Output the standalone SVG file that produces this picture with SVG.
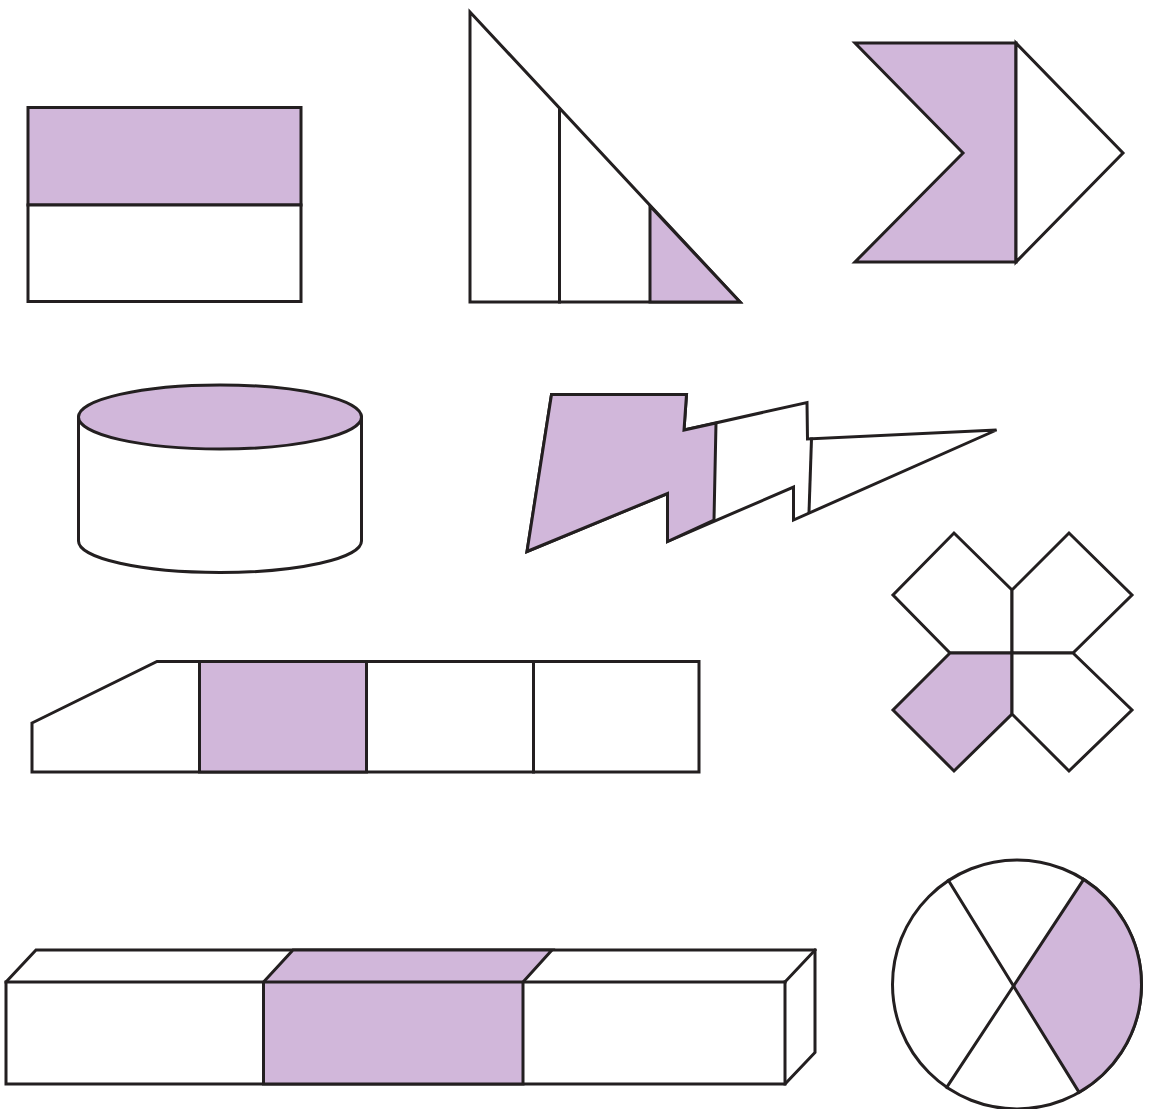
<svg xmlns="http://www.w3.org/2000/svg" width="1160" height="1109" viewBox="0 0 1160 1109">
<style>
.s{stroke:#231f20;stroke-width:3;stroke-linejoin:miter;stroke-linecap:square}
.p{fill:#d1b7da}
.w{fill:#ffffff}
.n{fill:none}
</style>
<rect width="1160" height="1109" fill="#ffffff"/>
<g id="rectangle">
<rect class="s p" x="28" y="107.5" width="273" height="97.5"/>
<rect class="s w" x="28" y="205" width="273" height="96.5"/>
</g>
<g id="triangle">
<polygon class="s w" points="470,12 470,302 740,302"/>
<polygon class="s p" points="650,206 650,302 740,302"/>
<line class="s" x1="559.5" y1="109" x2="559.5" y2="302"/>
</g>
<g id="chevron">
<polygon class="s p" points="855,43 1016,43 1016,262 855,262 963,153"/>
<polygon class="s w" points="1016,43 1123,153 1016,262"/>
</g>
<g id="cylinder">
<path class="s w" d="M78.5,417 L78.5,541 A141.5,31.5 0 0 0 361.5,541 L361.5,417"/>
<ellipse class="s p" cx="220" cy="417" rx="141.5" ry="32"/>
</g>
<g id="lightning">
<polygon class="s w" points="551.5,394.5 686.5,394.5 684,430 807,402.5 807.5,439 996.5,430 793.5,520 793.5,487 667.5,541.5 667.5,493.5 527,551.5"/>
<polygon class="s p" points="551.5,394.5 686.5,394.5 684,430 716,423 714,520 667.5,541.5 667.5,493.5 527,551.5"/>
<line class="s" x1="811.5" y1="439" x2="809" y2="512.5"/>
</g>
<g id="cross">
<polygon class="s w" points="1012,590 954,533 893,595 950,653 1012,653"/>
<polygon class="s w" points="1012,590 1069,533 1132,595 1073,653 1012,653"/>
<polygon class="s p" points="950,653 893,710 954,771 1012,714 1012,653"/>
<polygon class="s w" points="1073,653 1132,710 1069,771 1012,714 1012,653"/>
</g>
<g id="tape">
<polygon class="s w" points="32,723 157,661.5 699,661.5 699,772 32,772"/>
<rect class="s p" x="199.5" y="661.5" width="167" height="110.5"/>
<line class="s" x1="533.5" y1="661.5" x2="533.5" y2="772"/>
</g>
<g id="prism">
<polygon class="s w" points="6,982 36,950 815,950 815,1052.5 785,1084 6,1084"/>
<polygon class="s p" points="293,950 552,950 523,982 523,1084 263.5,1084 263.5,982"/>
<line class="s" x1="6" y1="982" x2="785" y2="982"/>
<line class="s" x1="785" y1="982" x2="785" y2="1084"/>
<line class="s" x1="785" y1="982" x2="815" y2="950"/>
</g>
<g id="circle">
<circle class="s w" cx="1017" cy="984.5" r="124.5"/>
<path class="s p" d="M1013.5,986 L1083.7,879.4 A124.5,124.5 0 0 1 1079.1,1092.4 Z"/>
<line class="s" x1="948.5" y1="880.5" x2="1013.5" y2="986"/>
<line class="s" x1="946.7" y1="1087.3" x2="1013.5" y2="986"/>
</g>
</svg>
